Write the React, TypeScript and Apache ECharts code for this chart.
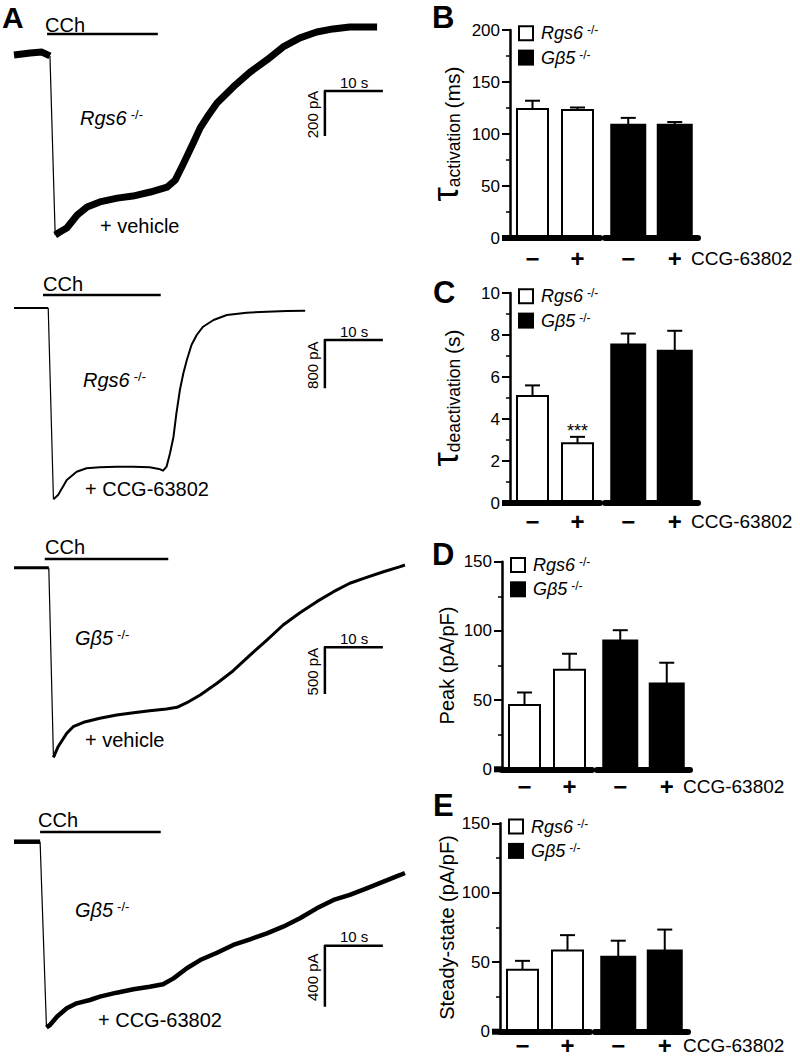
import React, { useEffect, useRef } from 'react';
import * as echarts from 'echarts';

// ---------------- DATA ----------------
// Panel A: GIRK current traces, [time (s), current (pA)], baseline = 0
const rgs6VehicleBase = [[0, 0], [2.8, 9], [4.8, 13], [6.2, -4]];
const rgs6VehicleResp = [[7.1, -800], [7.9, -787], [9.1, -769], [10.9, -711], [12.6, -676], [14.8, -653], [17.8, -636], [20.5, -627], [23.5, -609], [26.4, -587], [27.8, -556], [29.1, -489], [30.9, -391], [32.1, -324], [33.3, -276], [35.0, -213], [37.8, -142], [40.7, -76], [43.6, -22], [46.4, 36], [49.3, 76], [52.2, 102], [55.0, 116], [57.9, 124], [60.9, 124], [62.6, 124]];

const rgs6CcgBase = [[0, 0], [5.9, 0]];
const rgs6CcgResp = [[6.8, -3167], [7.6, -3096], [9.1, -2848], [10.8, -2710], [12.5, -2654], [14.8, -2637], [17.7, -2627], [20.6, -2627], [23.4, -2637], [25.2, -2671], [25.7, -2694], [26.3, -2627], [26.9, -2406], [27.5, -2131], [28.0, -1743], [28.6, -1358], [29.2, -1081], [29.8, -861], [30.6, -613], [31.5, -447], [32.6, -310], [34.4, -199], [36.7, -116], [40.1, -78], [43.6, -61], [47.0, -50], [50.2, -45]];

const gb5VehicleBase = [[0, 0], [6.0, 0]];
const gb5VehicleResp = [[6.8, -2032], [7.6, -1919], [9.1, -1775], [10.2, -1704], [12.0, -1657], [14.8, -1614], [17.7, -1579], [20.6, -1554], [23.4, -1533], [26.3, -1514], [28.1, -1496], [29.8, -1447], [32.1, -1364], [35.0, -1239], [37.8, -1104], [40.7, -936], [43.6, -775], [46.4, -614], [49.3, -482], [52.2, -364], [55.1, -257], [57.9, -167], [60.8, -103], [63.7, -43], [66.6, 11], [67.4, 29]];

const gb5CcgBase = [[0, 0], [4.5, 0]];
const gb5CcgResp = [[5.6, -1217], [6.2, -1202], [7.4, -1148], [9.1, -1092], [10.8, -1060], [13.1, -1038], [14.8, -1016], [17.7, -990], [20.6, -968], [23.4, -951], [25.7, -935], [27.5, -896], [29.8, -830], [32.1, -776], [35.0, -728], [37.8, -677], [40.7, -640], [43.6, -601], [46.4, -557], [49.3, -502], [52.2, -437], [55.1, -382], [57.9, -349], [60.8, -306], [63.7, -262], [66.6, -218], [67.4, -205]];

// CCh application window (s)
const cchRgs6Vehicle = [5.7, 24.8];
const cchRgs6Ccg = [5.0, 25.3];
const cchGb5Vehicle = [5.3, 26.6];
const cchGb5Ccg = [4.5, 25.3];

// scale bars
const scaleTimeS = 10;
const scaleCurrentPA = [200, 800, 500, 400];

const traceGenotype = ['Rgs6', 'Rgs6', 'Gβ5', 'Gβ5'];
const traceTreatment = ['+ vehicle', '+ CCG-63802', '+ vehicle', '+ CCG-63802'];

// Panels B–E: bars [Rgs6 −, Rgs6 +, Gβ5 −, Gβ5 +]
const conditions = ['−', '+'];
const tauActMean = [124, 123, 109, 109];
const tauActSem = [8, 2.5, 6.5, 2.5];
const tauDeactMean = [5.1, 2.85, 7.55, 7.25];
const tauDeactSem = [0.5, 0.3, 0.52, 0.95];
const tauDeactSig = ['', '***', '', ''];
const peakMean = [46.5, 72, 93, 62];
const peakSem = [9, 11.5, 7.5, 15];
const steadyMean = [44.5, 58.5, 54, 58.5];
const steadySem = [6.5, 11, 11.5, 15];

// ---------------- LAYOUT / STYLE ----------------
const FONT = '"Liberation Sans", Arial, Helvetica, sans-serif';
const TRACE_LEFT = 14;
const PX_PER_S = 5.8;
const TRACE_TMAX = 70;
const SCALE_T0 = 53.6;

const TRACES = [
  { base: rgs6VehicleBase, resp: rgs6VehicleResp, cch: cchRgs6Vehicle },
  { base: rgs6CcgBase, resp: rgs6CcgResp, cch: cchRgs6Ccg },
  { base: gb5VehicleBase, resp: gb5VehicleResp, cch: cchGb5Vehicle },
  { base: gb5CcgBase, resp: gb5CcgResp, cch: cchGb5Ccg },
];

const TRACE_LAYOUT = [
  { baselineY: 55, pxPerPA: 0.225, yMin: -1000, yMax: 200, width: 7, cchLevel: 93, scaleTop: -160, cchX: 45, cchY: 24.5, genoX: 80, genoY: 118, treatX: 100, treatY: 226 },
  { baselineY: 308, pxPerPA: 0.0604, yMin: -3600, yMax: 400, width: 2, cchLevel: 215, scaleTop: -530, cchX: 43, cchY: 283.5, genoX: 83, genoY: 380, treatX: 85, treatY: 488.5 },
  { baselineY: 567.7, pxPerPA: 0.0933, yMin: -2200, yMax: 200, width: 3, cchLevel: 93, scaleTop: -853, cchX: 45, cchY: 546.5, genoX: 75, genoY: 638, treatX: 85, treatY: 740 },
  { baselineY: 841.7, pxPerPA: 0.1525, yMin: -1300, yMax: 200, width: 4.5, cchLevel: 64, scaleTop: -682, cchX: 38, cchY: 819.5, genoX: 75, genoY: 909.5, treatX: 98, treatY: 1020 },
];

const PANELS = [
  { letter: 'B', letterX: 432, letterY: 17.5, axisX: 510, top: 30, bottom: 238, max: 200, interval: 50, labelMargin: 8, mean: tauActMean, sem: tauActSem, sig: null as any, title: '{t|τ}{s|activation} {n|(ms)}', rich: true, ccgX: 691 },
  { letter: 'C', letterX: 433, letterY: 292, axisX: 510, top: 293, bottom: 503, max: 10, interval: 2, labelMargin: 6, mean: tauDeactMean, sem: tauDeactSem, sig: tauDeactSig, title: '{t|τ}{s|deactivation} {n|(s)}', rich: true, ccgX: 691 },
  { letter: 'D', letterX: 432, letterY: 554, axisX: 502, top: 561.7, bottom: 769.3, max: 150, interval: 50, labelMargin: 5, mean: peakMean, sem: peakSem, sig: null as any, title: 'Peak (pA/pF)', rich: false, ccgX: 683 },
  { letter: 'E', letterX: 433, letterY: 805, axisX: 500, top: 823.3, bottom: 1031.7, max: 150, interval: 50, labelMargin: 2, mean: steadyMean, sem: steadySem, sig: null as any, title: 'Steady-state (pA/pF)', rich: false, ccgX: 683 },
];

const WHITE_W = 31;
const BLACK_W = 34;
const CAP_W = 15;

function geneRich(size: number, supSize: number) {
  return {
    g: { fontStyle: 'italic', fontSize: size, fontFamily: FONT, fill: '#000', color: '#000' },
    s: { fontSize: supSize, fontFamily: FONT, fill: '#000', color: '#000', verticalAlign: 'top', padding: [0, 0, 0, 4] },
  };
}

function text(x: number, y: number, t: string, style: any = {}, extra: any = {}) {
  return {
    type: 'text',
    x,
    y,
    silent: true,
    ...extra,
    style: { text: t, fill: '#000', fontFamily: FONT, fontSize: 20, align: 'left', verticalAlign: 'middle', ...style },
  };
}

function buildOption() {
  const grid: any[] = [];
  const xAxis: any[] = [];
  const yAxis: any[] = [];
  const series: any[] = [];
  const graphic: any[] = [];

  graphic.push(text(2, 2, 'A', { fontSize: 30, fontWeight: 'bold', verticalAlign: 'top' }));

  TRACES.forEach((tr, i) => {
    const L = TRACE_LAYOUT[i];
    grid.push({
      left: TRACE_LEFT,
      top: L.baselineY - L.yMax * L.pxPerPA,
      width: TRACE_TMAX * PX_PER_S,
      height: (L.yMax - L.yMin) * L.pxPerPA,
    });
    xAxis.push({ type: 'value', gridIndex: i, min: 0, max: TRACE_TMAX, show: false });
    yAxis.push({ type: 'value', gridIndex: i, min: L.yMin, max: L.yMax, show: false });
    const line = (data: any[], width: number) => ({
      type: 'line',
      xAxisIndex: i,
      yAxisIndex: i,
      data,
      symbol: 'none',
      silent: true,
      clip: false,
      lineStyle: { color: '#000', width, join: 'round', cap: 'butt' },
    });
    series.push(line(tr.base, L.width));
    series.push(line([tr.base[tr.base.length - 1], tr.resp[0]], 1.2));
    series.push(line(tr.resp, L.width));
    series.push(line([[tr.cch[0], L.cchLevel], [tr.cch[1], L.cchLevel]], 2.5));
    series.push(
      line(
        [
          [SCALE_T0 + scaleTimeS, L.scaleTop],
          [SCALE_T0, L.scaleTop],
          [SCALE_T0, L.scaleTop - scaleCurrentPA[i]],
        ],
        2.5
      )
    );

    // texts
    graphic.push(text(L.cchX, L.cchY, 'CCh'));
    graphic.push(
      text(L.genoX, L.genoY, `{g|${traceGenotype[i]}}{s|-/-}`, { rich: geneRich(20, 13) })
    );
    graphic.push(text(L.treatX, L.treatY, traceTreatment[i]));
    const barY = L.baselineY - L.scaleTop * L.pxPerPA;
    const barX = TRACE_LEFT + SCALE_T0 * PX_PER_S;
    const barLen = scaleCurrentPA[i] * L.pxPerPA;
    graphic.push(text(barX + 15, barY - 9, `${scaleTimeS} s`, { fontSize: 15 }));
    graphic.push(
      text(barX - 12, barY + barLen / 2 + 1, `${scaleCurrentPA[i]} pA`, { fontSize: 15, align: 'center' }, { rotation: Math.PI / 2 })
    );
  });

  PANELS.forEach((p, k) => {
    const h = p.bottom - p.top;
    [0, 1].forEach((g) => {
      const idx = 4 + k * 2 + g;
      grid.push({
        left: g === 0 ? p.axisX : p.axisX + 95,
        width: g === 0 ? 90 : 93,
        top: p.top,
        height: h,
      });
      xAxis.push({
        type: 'category',
        gridIndex: idx,
        data: conditions,
        z: 5,
        axisLine: { show: true, lineStyle: { color: '#000', width: 6 } },
        axisTick: { show: false },
        axisLabel: { color: '#000', fontSize: 24, fontWeight: 'bold', fontFamily: FONT, margin: p.labelMargin },
      });
      yAxis.push({
        type: 'value',
        gridIndex: idx,
        min: 0,
        max: p.max,
        interval: p.interval,
        show: g === 0,
        axisLine: { show: true, lineStyle: { color: '#000', width: 2.5 } },
        axisTick: { show: true, length: 8, lineStyle: { color: '#000', width: 2 } },
        minorTick: { show: true, splitNumber: 2, length: 4, lineStyle: { color: '#000', width: 1.5 } },
        splitLine: { show: false },
        axisLabel: { color: '#000', fontSize: 17, fontFamily: FONT, margin: 10 },
      });
      const data = p.mean.slice(g * 2, g * 2 + 2).map((m, j) => [j, m, p.sem[g * 2 + j]]);
      const sigs = p.sig ? p.sig.slice(g * 2, g * 2 + 2) : ['', ''];
      const filled = g === 1;
      series.push({
        type: 'custom',
        name: g === 0 ? 'Rgs6' : 'Gβ5',
        xAxisIndex: idx,
        yAxisIndex: idx,
        silent: true,
        encode: { x: 0, y: 1 },
        data,
        renderItem: (params: any, api: any) => {
          const j = api.value(0);
          const m = api.value(1);
          const e = api.value(2);
          const top = api.coord([j, m]);
          const cx = top[0];
          const yTop = top[1];
          const y0 = api.coord([j, 0])[1];
          const yErr = api.coord([j, m + e])[1];
          const w = filled ? BLACK_W : WHITE_W;
          const children: any[] = [
            { type: 'line', shape: { x1: cx, y1: yTop, x2: cx, y2: yErr }, style: { stroke: '#000', lineWidth: 2 } },
            { type: 'line', shape: { x1: cx - CAP_W / 2, y1: yErr, x2: cx + CAP_W / 2, y2: yErr }, style: { stroke: '#000', lineWidth: 2 } },
            {
              type: 'rect',
              shape: { x: cx - w / 2, y: yTop, width: w, height: y0 - yTop },
              style: { fill: filled ? '#000' : '#fff', stroke: '#000', lineWidth: 2 },
            },
          ];
          const sig = sigs[params.dataIndex];
          if (sig) {
            children.push({
              type: 'text',
              x: cx,
              y: yErr + 3,
              style: { text: sig, fill: '#000', fontSize: 18, fontFamily: FONT, align: 'center', verticalAlign: 'bottom' },
            });
          }
          return { type: 'group', children };
        },
      });
    });

    // baseline stub left of y axis
    graphic.push({
      type: 'rect',
      silent: true,
      shape: { x: p.axisX - 8, y: p.bottom - 3, width: 8, height: 6 },
      style: { fill: '#000' },
    });
    // panel letter
    graphic.push(text(p.letterX, p.letterY, p.letter, { fontSize: 31, fontWeight: 'bold' }));
    // y title
    const mid = (p.top + p.bottom) / 2;
    if (p.rich) {
      graphic.push(
        text(
          445,
          mid,
          p.title,
          {
            align: 'center',
            fontSize: 17,
            rich: {
              t: { fontSize: 36, fontFamily: FONT, fill: '#000' },
              s: { fontSize: 17.5, fontFamily: FONT, fill: '#000', verticalAlign: 'bottom' },
              n: { fontSize: 21, fontFamily: FONT, fill: '#000', verticalAlign: 'bottom' },
            },
          },
          { rotation: Math.PI / 2 }
        )
      );
    } else {
      graphic.push(text(447, mid, p.title, { align: 'center', fontSize: 20 }, { rotation: Math.PI / 2 }));
    }
    // legend
    const lx = p.axisX + 8;
    graphic.push({
      type: 'rect',
      silent: true,
      shape: { x: lx + 1, y: p.top - 3.8, width: 14, height: 14 },
      style: { fill: '#fff', stroke: '#000', lineWidth: 2 },
    });
    graphic.push({
      type: 'rect',
      silent: true,
      shape: { x: lx, y: p.top + 19.6, width: 16, height: 16 },
      style: { fill: '#000' },
    });
    graphic.push(text(lx + 23, p.top + 3.2, '{g|Rgs6}{s|-/-}', { rich: geneRich(18, 12) }));
    graphic.push(text(lx + 23, p.top + 27.6, '{g|Gβ5}{s|-/-}', { rich: geneRich(18, 12) }));
    // drug label
    const rowY = p.bottom + p.labelMargin + 12;
    graphic.push(text(p.ccgX, rowY, 'CCG-63802', { fontSize: 19 }));
  });

  return {
    animation: false,
    backgroundColor: '#fff',
    grid,
    xAxis,
    yAxis,
    series,
    graphic,
  };
}

export default function App() {
  const ref = useRef<HTMLDivElement>(null);
  useEffect(() => {
    const chart = echarts.init(ref.current as HTMLDivElement, null, { renderer: 'svg' });
    chart.setOption(buildOption() as any);
    return () => chart.dispose();
  }, []);
  return (
    <div
      ref={ref}
      style={{ position: 'absolute', left: 0, top: 0, width: 800, height: 1058, background: '#fff' }}
    />
  );
}
